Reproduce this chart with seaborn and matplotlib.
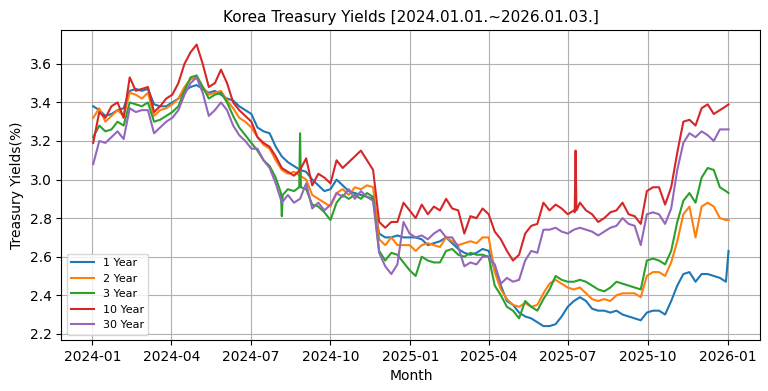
"""Korea treasury yields, 2024-2025, weekly readings."""

import matplotlib

matplotlib.use("Agg")
import matplotlib.dates as mdates
import matplotlib.pyplot as plt
import pandas as pd
import seaborn as sns


# weekly observations (Tuesdays) plus the first trading day of 2026
week_start = "2024-01-02"
week_end = "2025-12-30"
last_day = "2026-01-02"

series_names = ["1 Year", "2 Year", "3 Year", "10 Year", "30 Year"]

yield_1y = [
    3.38, 3.36, 3.33, 3.34, 3.36, 3.37, 3.46, 3.47, 3.46,
    3.47, 3.39, 3.38, 3.38, 3.40, 3.42, 3.46, 3.48, 3.49,
    3.47, 3.45, 3.46, 3.44, 3.42, 3.41, 3.38, 3.36, 3.34,
    3.27, 3.25, 3.24, 3.17, 3.12, 3.09, 3.07, 3.05, 3.04,
    3.00, 2.97, 2.94, 2.95,
    3.00, 2.97, 2.94, 2.93, 2.92, 2.91, 2.90, 2.72,
    2.70, 2.70, 2.71, 2.70, 2.70, 2.70, 2.69, 2.66, 2.67,
    2.68, 2.70, 2.67, 2.64, 2.62, 2.61, 2.62, 2.64, 2.63,
    2.53, 2.45, 2.37, 2.35, 2.31, 2.29, 2.28, 2.26,
    2.24, 2.24, 2.25, 2.29, 2.34, 2.37, 2.39, 2.37, 2.33,
    2.32, 2.32, 2.31, 2.32, 2.30, 2.29, 2.28, 2.27, 2.31,
    2.32, 2.32, 2.30, 2.37, 2.45, 2.51, 2.52, 2.47, 2.51,
    2.51, 2.50, 2.49, 2.47, 2.63,
]
yield_2y = [
    3.32, 3.37, 3.30, 3.33, 3.36, 3.33, 3.45, 3.44, 3.42,
    3.45, 3.33, 3.36, 3.37, 3.39, 3.42, 3.48, 3.52, 3.53,
    3.48, 3.44, 3.45, 3.46, 3.41, 3.37, 3.32, 3.30, 3.27,
    3.22, 3.18, 3.16, 3.10, 3.05, 3.03, 3.04, 3.02, 3.00,
    2.92, 2.90, 2.88, 2.86,
    2.93, 2.95, 2.92, 2.96, 2.95, 2.97, 2.96, 2.69,
    2.66, 2.70, 2.66, 2.66, 2.66, 2.63, 2.66, 2.67, 2.66,
    2.65, 2.70, 2.68, 2.66, 2.67, 2.68, 2.67, 2.70, 2.70,
    2.52, 2.43, 2.38, 2.35, 2.34, 2.36, 2.34, 2.35,
    2.41, 2.46, 2.48, 2.46, 2.44, 2.43, 2.44, 2.41, 2.38,
    2.37, 2.38, 2.37, 2.40, 2.41, 2.41, 2.41, 2.39, 2.50,
    2.52, 2.52, 2.50, 2.57, 2.68, 2.82, 2.86, 2.70, 2.86,
    2.88, 2.86, 2.80, 2.79, 2.79,
]
yield_3y = [
    3.22, 3.28, 3.25, 3.26, 3.30, 3.28, 3.40, 3.39, 3.38,
    3.40, 3.30, 3.31, 3.33, 3.35, 3.38, 3.46, 3.53, 3.54,
    3.48, 3.42, 3.44, 3.45, 3.40, 3.33, 3.27, 3.23, 3.19,
    3.15, 3.10, 3.07, 3.01, 2.81, 2.95, 2.94, 3.24, 2.95,
    2.87, 2.86, 2.83, 2.79,
    2.88, 2.92, 2.90, 2.92, 2.90, 2.93, 2.91, 2.63,
    2.58, 2.62, 2.61, 2.57, 2.53, 2.50, 2.60, 2.58, 2.57,
    2.57, 2.63, 2.64, 2.61, 2.60, 2.62, 2.61, 2.61, 2.60,
    2.45, 2.40, 2.34, 2.32, 2.28, 2.37, 2.34, 2.32,
    2.38, 2.43, 2.50, 2.48, 2.47, 2.47, 2.48, 2.47, 2.45,
    2.43, 2.42, 2.44, 2.47, 2.46, 2.45, 2.44, 2.43, 2.58,
    2.59, 2.58, 2.56, 2.63, 2.78, 2.89, 2.93, 2.88, 3.01,
    3.06, 3.05, 2.96, 2.94, 2.93,
]
yield_10y = [
    3.19, 3.35, 3.32, 3.38, 3.40, 3.32, 3.53, 3.46, 3.47,
    3.48, 3.35, 3.38, 3.42, 3.44, 3.50, 3.60, 3.66, 3.70,
    3.60, 3.48, 3.50, 3.57, 3.50, 3.40, 3.36, 3.33, 3.30,
    3.22, 3.19, 3.17, 3.12, 3.06, 3.04, 3.02, 3.05, 3.11,
    2.97, 3.03, 3.01, 2.98,
    3.10, 3.06, 3.09, 3.12, 3.15, 3.10, 3.05, 2.78,
    2.75, 2.78, 2.78, 2.88, 2.84, 2.80, 2.87, 2.82, 2.86,
    2.84, 2.90, 2.85, 2.84, 2.72, 2.81, 2.80, 2.85, 2.82,
    2.73, 2.69, 2.63, 2.58, 2.61, 2.72, 2.76, 2.77,
    2.88, 2.84, 2.87, 2.85, 2.82, 2.84, 2.88, 2.84, 2.82,
    2.78, 2.80, 2.83, 2.84, 2.88, 2.82, 2.81, 2.77, 2.94,
    2.96, 2.96, 2.87, 2.96, 3.14, 3.30, 3.31, 3.28, 3.37,
    3.39, 3.34, 3.36, 3.38, 3.39,
]
yield_30y = [
    3.08, 3.20, 3.19, 3.22, 3.25, 3.21, 3.37, 3.35, 3.36,
    3.36, 3.24, 3.27, 3.30, 3.32, 3.36, 3.44, 3.50, 3.53,
    3.45, 3.33, 3.36, 3.40, 3.36, 3.28, 3.23, 3.20, 3.16,
    3.16, 3.10, 3.06, 2.98, 2.88, 2.92, 2.88, 2.90, 2.98,
    2.85, 2.88, 2.84, 2.87,
    2.93, 2.91, 2.95, 2.90, 2.94, 2.91, 2.89, 2.62,
    2.55, 2.51, 2.56, 2.78, 2.72, 2.70, 2.71, 2.69, 2.72,
    2.74, 2.70, 2.70, 2.65, 2.55, 2.57, 2.56, 2.60, 2.60,
    2.56, 2.46, 2.49, 2.47, 2.48, 2.58, 2.63, 2.62,
    2.74, 2.74, 2.75, 2.73, 2.72, 2.74, 2.75, 2.74, 2.73,
    2.71, 2.73, 2.75, 2.76, 2.80, 2.77, 2.76, 2.66, 2.82,
    2.83, 2.82, 2.77, 2.85, 3.05, 3.19, 3.24, 3.22, 3.25,
    3.23, 3.20, 3.26, 3.26, 3.26,
]

# single-day moves between the weekly readings
extra_3y_dates = ["2024-08-05", "2024-08-07", "2024-08-26", "2024-08-28"]
extra_3y_values = [2.93, 2.92, 2.96, 2.96]
extra_10y_dates = ["2025-07-09", "2025-07-10", "2025-07-11"]
extra_10y_values = [2.83, 3.15, 2.84]


def build_frame() -> pd.DataFrame:
    dates = list(pd.date_range(week_start, week_end, freq="7D")) + [pd.Timestamp(last_day)]
    values = [yield_1y, yield_2y, yield_3y, yield_10y, yield_30y]
    parts = []
    for name, vals in zip(series_names, values):
        parts.append(pd.DataFrame({"date": dates, "yield": vals, "series": name}))
    parts.append(pd.DataFrame({"date": pd.to_datetime(extra_3y_dates),
                               "yield": extra_3y_values, "series": "3 Year"}))
    parts.append(pd.DataFrame({"date": pd.to_datetime(extra_10y_dates),
                               "yield": extra_10y_values, "series": "10 Year"}))
    return pd.concat(parts, ignore_index=True).sort_values(["series", "date"])


data = build_frame()

fig, ax = plt.subplots(figsize=(7.68, 3.91), dpi=100)
sns.lineplot(
    data=data,
    x="date",
    y="yield",
    hue="series",
    hue_order=series_names,
    palette="tab10",
    linewidth=1.5,
    estimator=None,
    ax=ax,
)
ax.grid(True, color="#b0b0b0", linewidth=0.8)
ax.set_axisbelow(True)
ax.xaxis.set_major_locator(mdates.MonthLocator(bymonth=[1, 4, 7, 10]))
ax.xaxis.set_major_formatter(mdates.DateFormatter("%Y-%m"))
ax.set_title("Korea Treasury Yields [2024.01.01.~2026.01.03.]", fontsize=11)
ax.set_xlabel("Month")
ax.set_ylabel("Treasury Yields(%)")
ax.legend(loc="lower left", fontsize=8, title=None)

fig.subplots_adjust(left=0.08, right=0.99, top=0.922, bottom=0.13)
fig.savefig("out.png", dpi=100)
plt.close(fig)
